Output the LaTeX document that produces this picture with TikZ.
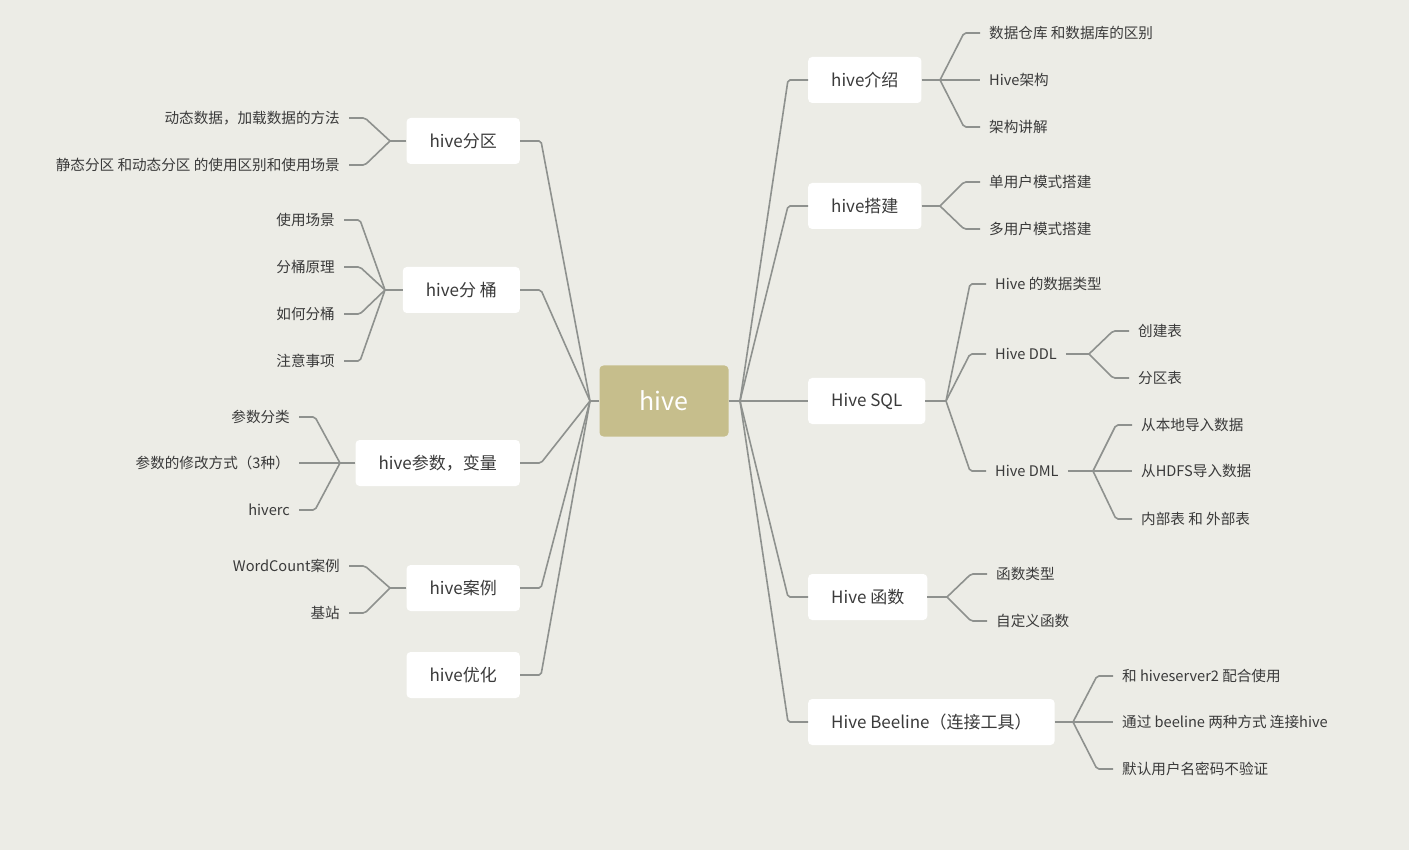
\documentclass[tikz,border=0pt]{standalone}
\usepackage{fontspec}
\setmainfont{Noto Sans CJK SC}
\usepackage{tikz}
\usetikzlibrary{positioning}
\definecolor{bgGray}{RGB}{236,236,230}
\definecolor{lineGray}{RGB}{142,145,142}
\definecolor{rootFill}{RGB}{198,190,140}
\definecolor{textDark}{RGB}{58,58,58}
\tikzset{%
	% Specifications for style of nodes:
	base/.style = {rectangle, rounded corners=4pt, inner sep=0pt, text=textDark},
	root/.style = {base, fill=rootFill, minimum width=129pt, minimum height=71pt,
		text=white, font=\fontsize{25pt}{30pt}\selectfont},
	topic/.style = {base, fill=white, inner xsep=23pt, minimum height=46pt,
		font=\fontsize{17pt}{20pt}\selectfont},
	topicR/.style = {topic, anchor=west},
	topicL/.style = {topic, anchor=east},
	leafR/.style = {base, anchor=west, inner xsep=9pt, inner ysep=3pt,
		font=\fontsize{14.6pt}{17pt}\selectfont},
	leafL/.style = {leafR, anchor=east},
	link/.style = {draw=lineGray, line width=1.6pt, rounded corners=2pt}
}
\begin{document}
\begin{tikzpicture}[x=1pt, y=-1pt]
		\fill[bgGray] (0,0) rectangle (1409,850);
		\useasboundingbox (0,0) rectangle (1409,850);
		% root and forks
		\node (hive) [root] at (664,401) {hive};
		\coordinate (rFork) at (740,401);
		\coordinate (lFork) at (590,401);
		\draw[link] (hive.east) -- (rFork);
		\draw[link] (hive.west) -- (lFork);
		% right side
		\node (intro) [topicR] at (808,80) {hive介绍};
		\node (build) [topicR] at (808,206) {hive搭建};
		\node (sql) [topicR] at (808,401) {Hive SQL};
		\node (func) [topicR] at (808,597) {Hive 函数};
		\node (beeline) [topicR] at (808,722) {Hive Beeline（连接工具）};
		\draw[link] (rFork) -- ([xshift=-20pt]intro.west) -- (intro.west);
		\draw[link] (rFork) -- ([xshift=-20pt]build.west) -- (build.west);
		\draw[link] (rFork) -- (sql.west);
		\draw[link] (rFork) -- ([xshift=-20pt]func.west) -- (func.west);
		\draw[link] (rFork) -- ([xshift=-20pt]beeline.west) -- (beeline.west);
		% hive intro
		\coordinate (fIntro) at (940,80);
		\node (intro1) [leafR] at (980,33) {数据仓库 和数据库的区别};
		\node (intro2) [leafR] at (980,80) {Hive架构};
		\node (intro3) [leafR] at (980,127) {架构讲解};
		\draw[link] (intro.east) -- (fIntro);
		\draw[link] (fIntro) -- ([xshift=-16pt]intro1.west) -- (intro1.west);
		\draw[link] (fIntro) -- (intro2.west);
		\draw[link] (fIntro) -- ([xshift=-16pt]intro3.west) -- (intro3.west);
		% hive build
		\coordinate (fBuild) at (940,206);
		\node (build1) [leafR] at (980,182) {单用户模式搭建};
		\node (build2) [leafR] at (980,229) {多用户模式搭建};
		\draw[link] (build.east) -- (fBuild);
		\draw[link] (fBuild) -- ([xshift=-16pt]build1.west) -- (build1.west);
		\draw[link] (fBuild) -- ([xshift=-16pt]build2.west) -- (build2.west);
		% hive sql
		\coordinate (fSql) at (946,401);
		\node (sqlType) [leafR] at (986,284) {Hive 的数据类型};
		\node (sqlDdl) [leafR] at (986,354) {Hive DDL};
		\node (sqlDml) [leafR] at (986,471) {Hive DML};
		\draw[link] (sql.east) -- (fSql);
		\draw[link] (fSql) -- ([xshift=-16pt]sqlType.west) -- (sqlType.west);
		\draw[link] (fSql) -- ([xshift=-16pt]sqlDdl.west) -- (sqlDdl.west);
		\draw[link] (fSql) -- ([xshift=-16pt]sqlDml.west) -- (sqlDml.west);
		\coordinate (fDdl) at (1089,354);
		\node (ddl1) [leafR] at (1129,331) {创建表};
		\node (ddl2) [leafR] at (1129,378) {分区表};
		\draw[link] (sqlDdl.east) -- (fDdl);
		\draw[link] (fDdl) -- ([xshift=-16pt]ddl1.west) -- (ddl1.west);
		\draw[link] (fDdl) -- ([xshift=-16pt]ddl2.west) -- (ddl2.west);
		\coordinate (fDml) at (1093,471);
		\node (dml1) [leafR] at (1132,425) {从本地导入数据};
		\node (dml2) [leafR] at (1132,471) {从HDFS导入数据};
		\node (dml3) [leafR] at (1132,519) {内部表 和 外部表};
		\draw[link] (sqlDml.east) -- (fDml);
		\draw[link] (fDml) -- ([xshift=-16pt]dml1.west) -- (dml1.west);
		\draw[link] (fDml) -- (dml2.west);
		\draw[link] (fDml) -- ([xshift=-16pt]dml3.west) -- (dml3.west);
		% hive functions
		\coordinate (fFunc) at (947,597);
		\node (func1) [leafR] at (987,574) {函数类型};
		\node (func2) [leafR] at (987,621) {自定义函数};
		\draw[link] (func.east) -- (fFunc);
		\draw[link] (fFunc) -- ([xshift=-16pt]func1.west) -- (func1.west);
		\draw[link] (fFunc) -- ([xshift=-16pt]func2.west) -- (func2.west);
		% hive beeline
		\coordinate (fBeeline) at (1073,722);
		\node (bl1) [leafR] at (1113,676) {和 hiveserver2 配合使用};
		\node (bl2) [leafR] at (1113,722) {通过 beeline 两种方式 连接hive};
		\node (bl3) [leafR] at (1113,769) {默认用户名密码不验证};
		\draw[link] (beeline.east) -- (fBeeline);
		\draw[link] (fBeeline) -- ([xshift=-16pt]bl1.west) -- (bl1.west);
		\draw[link] (fBeeline) -- (bl2.west);
		\draw[link] (fBeeline) -- ([xshift=-16pt]bl3.west) -- (bl3.west);
		% left side
		\node (part) [topicL] at (520,141) {hive分区};
		\node (bucket) [topicL] at (520,290) {hive分 桶};
		\node (param) [topicL] at (520,463) {hive参数，变量};
		\node (case) [topicL] at (520,588) {hive案例};
		\node (tune) [topicL] at (520,675) {hive优化};
		\draw[link] (lFork) -- ([xshift=21pt]part.east) -- (part.east);
		\draw[link] (lFork) -- ([xshift=21pt]bucket.east) -- (bucket.east);
		\draw[link] (lFork) -- ([xshift=21pt]param.east) -- (param.east);
		\draw[link] (lFork) -- ([xshift=21pt]case.east) -- (case.east);
		\draw[link] (lFork) -- ([xshift=21pt]tune.east) -- (tune.east);
		% hive partition
		\coordinate (fPart) at (390,141);
		\node (part1) [leafL] at (349,118) {动态数据，加载数据的方法};
		\node (part2) [leafL] at (349,165) {静态分区 和动态分区 的使用区别和使用场景};
		\draw[link] (part.west) -- (fPart);
		\draw[link] (fPart) -- ([xshift=16pt]part1.east) -- (part1.east);
		\draw[link] (fPart) -- ([xshift=16pt]part2.east) -- (part2.east);
		% hive bucket
		\coordinate (fBucket) at (385,290);
		\node (bucket1) [leafL] at (344,220) {使用场景};
		\node (bucket2) [leafL] at (344,267) {分桶原理};
		\node (bucket3) [leafL] at (344,314) {如何分桶};
		\node (bucket4) [leafL] at (344,361) {注意事项};
		\draw[link] (bucket.west) -- (fBucket);
		\draw[link] (fBucket) -- ([xshift=16pt]bucket1.east) -- (bucket1.east);
		\draw[link] (fBucket) -- ([xshift=16pt]bucket2.east) -- (bucket2.east);
		\draw[link] (fBucket) -- ([xshift=16pt]bucket3.east) -- (bucket3.east);
		\draw[link] (fBucket) -- ([xshift=16pt]bucket4.east) -- (bucket4.east);
		% hive parameters
		\coordinate (fParam) at (340,463);
		\node (param1) [leafL] at (299,417) {参数分类};
		\node (param2) [leafL] at (299,463) {参数的修改方式（3种）};
		\node (param3) [leafL] at (299,510) {hiverc};
		\draw[link] (param.west) -- (fParam);
		\draw[link] (fParam) -- ([xshift=16pt]param1.east) -- (param1.east);
		\draw[link] (fParam) -- (param2.east);
		\draw[link] (fParam) -- ([xshift=16pt]param3.east) -- (param3.east);
		% hive cases
		\coordinate (fCase) at (390,588);
		\node (case1) [leafL] at (349,566) {WordCount案例};
		\node (case2) [leafL] at (349,613) {基站};
		\draw[link] (case.west) -- (fCase);
		\draw[link] (fCase) -- ([xshift=16pt]case1.east) -- (case1.east);
		\draw[link] (fCase) -- ([xshift=16pt]case2.east) -- (case2.east);
	\end{tikzpicture}
\end{document}
